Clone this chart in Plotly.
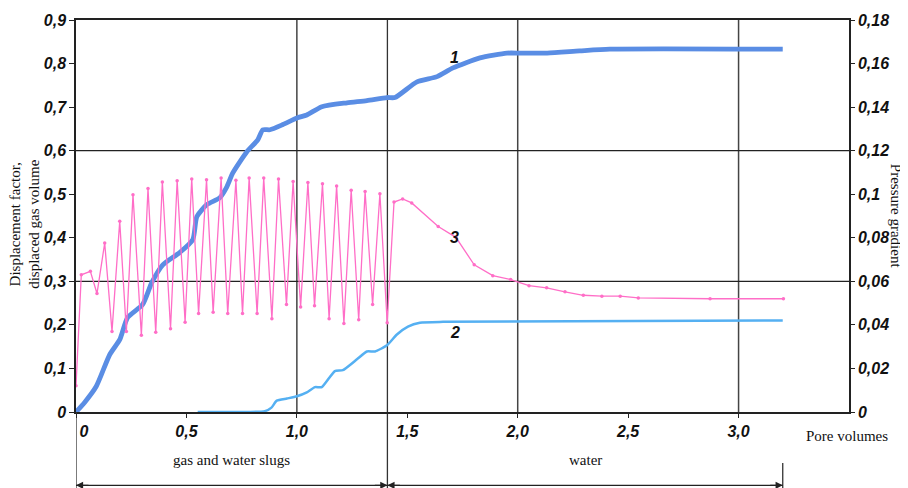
import plotly.graph_objects as go

# ---- data ----
# curve 1: displacement factor (left axis)
x1 = [0, 0.039, 0.092, 0.153, 0.198, 0.234, 0.302, 0.343, 0.393, 0.469, 0.529, 0.547, 0.592,
      0.651, 0.683, 0.710, 0.773, 0.823, 0.846, 0.878, 0.937, 1.0, 1.045, 1.113, 1.227, 1.317,
      1.408, 1.444, 1.544, 1.635, 1.707, 1.829, 1.951, 2.01, 2.133, 2.28, 2.417, 3.2]
y1 = [0, 0.022, 0.059, 0.132, 0.166, 0.217, 0.247, 0.297, 0.338, 0.366, 0.396, 0.448, 0.476,
      0.492, 0.517, 0.549, 0.597, 0.625, 0.648, 0.648, 0.660, 0.675, 0.682, 0.701, 0.710, 0.715,
      0.722, 0.722, 0.758, 0.770, 0.790, 0.813, 0.824, 0.824, 0.824, 0.829, 0.833, 0.833]

# curve 2: displaced gas volume (left axis)
x2 = [0.551, 0.855, 0.885, 0.909, 0.955, 1.0, 1.045, 1.082, 1.113, 1.172, 1.208, 1.272, 1.317,
      1.354, 1.408, 1.453, 1.503, 1.557, 1.662, 3.2]
y2 = [0, 0.002, 0.010, 0.026, 0.031, 0.036, 0.045, 0.057, 0.057, 0.094, 0.096, 0.121, 0.139,
      0.139, 0.153, 0.178, 0.196, 0.205, 0.207, 0.210]

# curve 3: pressure gradient (right axis)
x3 = [0, 0.024, 0.065, 0.095, 0.130, 0.163, 0.198, 0.228, 0.258, 0.296, 0.326, 0.361, 0.391,
      0.428, 0.458, 0.494, 0.524, 0.555, 0.591, 0.621, 0.657, 0.687, 0.724, 0.754, 0.784, 0.820,
      0.850, 0.887, 0.917, 0.953, 0.983, 1.017, 1.050, 1.080, 1.116, 1.146, 1.180, 1.213, 1.246,
      1.280, 1.309, 1.343, 1.376, 1.409, 1.440, 1.479, 1.520, 1.640, 1.720, 1.803, 1.887, 1.968,
      2.051, 2.131, 2.214, 2.297, 2.381, 2.464, 2.546, 2.871, 3.203]
y3 = [0.012, 0.063, 0.0646, 0.0544, 0.0776, 0.037, 0.0876, 0.037, 0.0998, 0.0352, 0.1026, 0.0366,
      0.1056, 0.0382, 0.1062, 0.0412, 0.107, 0.0452, 0.1066, 0.0458, 0.1074, 0.0452, 0.1064,
      0.0452, 0.1074, 0.0452, 0.1074, 0.0428, 0.107, 0.0494, 0.1058, 0.0482, 0.1054, 0.0488,
      0.1048, 0.0428, 0.1038, 0.0406, 0.1018, 0.0424, 0.1012, 0.0494, 0.1002, 0.041, 0.0964,
      0.0978, 0.096, 0.0852, 0.0802, 0.0676, 0.0626, 0.0608, 0.058, 0.057, 0.0552, 0.0536,
      0.0532, 0.0532, 0.0524, 0.052, 0.052]

x_tickvals = [0, 0.5, 1.0, 1.5, 2.0, 2.5, 3.0]
x_ticktext = ["\u2002\u20020", "0,5", "1,0", "1,5", "2,0", "2,5", "3,0"]
yl_tickvals = [0, 0.1, 0.2, 0.3, 0.4, 0.5, 0.6, 0.7, 0.8, 0.9]
yl_ticktext = ["0", "0,1", "0,2", "0,3", "0,4", "0,5", "0,6", "0,7", "0,8", "0,9"]
yr_tickvals = [0, 0.02, 0.04, 0.06, 0.08, 0.1, 0.12, 0.14, 0.16, 0.18]
yr_ticktext = ["0", "0,02", "0,04", "0,06", "0,08", "0,1", "0,12", "0,14", "0,16", "0,18"]

x_grid = [1.0, 2.0, 3.0]
y_grid = [0.3, 0.6]
slug_end = 1.41
water_end = 3.2
curve_labels = [("1", 1.716, 0.815), ("2", 1.716, 0.182), ("3", 1.716, 0.40)]

# ---- figure ----
tickfont = dict(family="Liberation Sans", size=16, color="#111", weight="bold", style="italic")
serif = dict(family="Liberation Serif", size=15, color="#111")

fig = go.Figure()
fig.add_trace(go.Scatter(x=x1, y=y1, mode="lines", line=dict(color="#5a8de4", width=4.8, shape="spline", smoothing=0.6),
                         showlegend=False, hoverinfo="skip"))
fig.add_trace(go.Scatter(x=x2, y=y2, mode="lines", line=dict(color="#55b0f2", width=2.5, shape="spline", smoothing=0.5),
                         showlegend=False, hoverinfo="skip"))
fig.add_trace(go.Scatter(x=x3, y=y3, mode="lines+markers", yaxis="y2",
                         line=dict(color="#ff6ec7", width=1.3), marker=dict(size=3.5, color="#ff6ec7"),
                         showlegend=False, hoverinfo="skip"))

arrow_y = -0.187
shapes = []
for gx in x_grid:
    shapes.append(dict(type="line", xref="x", yref="paper", x0=gx, x1=gx, y0=0, y1=1,
                       line=dict(color="#444", width=1.5), layer="below"))
shapes.append(dict(type="line", xref="x", yref="paper", x0=slug_end, x1=slug_end, y0=1, y1=-0.2,
                   line=dict(color="#333", width=1.3), layer="below"))
for gy in y_grid:
    shapes.append(dict(type="line", xref="paper", yref="y", x0=0, x1=1, y0=gy, y1=gy,
                       line=dict(color="#222", width=1.3), layer="below"))
shapes.append(dict(type="line", xref="x", yref="paper", x0=0, x1=0, y0=0, y1=-0.2,
                   line=dict(color="#333", width=1.3)))
shapes.append(dict(type="line", xref="x", yref="paper", x0=water_end, x1=water_end, y0=-0.13, y1=-0.2,
                   line=dict(color="#333", width=1.3)))
# bottom arrow lines
for (a, b) in [(0, slug_end), (slug_end, water_end)]:
    shapes.append(dict(type="line", xref="x", yref="paper", x0=a, x1=b, y0=arrow_y, y1=arrow_y,
                       line=dict(color="#222", width=1.3)))

annotations = []
for t, ax_, ay_ in curve_labels:
    annotations.append(dict(text=t, x=ax_, y=ay_, xref="x", yref="y", showarrow=False,
                            font=dict(family="Liberation Sans", size=16, color="#111", weight="bold", style="italic")))
# arrow heads and segment labels
for (a, b, label) in [(0, slug_end, "gas and water slugs"), (slug_end, water_end, "water")]:
    for (pos, off) in [(a, 14), (b, -14)]:
        annotations.append(dict(x=pos, y=arrow_y, xref="x", yref="paper", ax=off, ay=0,
                                axref="pixel", ayref="pixel", text="", showarrow=True, arrowhead=2,
                                arrowsize=1.1, arrowwidth=1.3, arrowcolor="#222", standoff=0))
    annotations.append(dict(x=(a + b) / 2, y=-0.148, xref="x", yref="paper", text=label, showarrow=False,
                            font=serif))
annotations.append(dict(text="Pore volumes", x=1.053, y=-0.062, xref="paper", yref="paper", xanchor="right",
                        yanchor="middle", showarrow=False, font=serif))
annotations.append(dict(text="Displacement factor,<br>displaced gas volume", x=-0.067, y=0.478, xref="paper",
                        yref="paper", xanchor="center", yanchor="middle", textangle=-90, showarrow=False,
                        font=serif))
annotations.append(dict(text="Pressure gradient", x=1.061, y=0.50, xref="paper", yref="paper",
                        xanchor="center", yanchor="middle", textangle=90, showarrow=False, font=serif))

# the page places the figure 8px in from the top-left corner, so the figure is 8px smaller
fig.update_layout(
    width=900, height=480,
    margin=dict(l=68, r=59, t=12, b=76, autoexpand=False),
    paper_bgcolor="white", plot_bgcolor="white",
    xaxis=dict(range=[0, 3.5], tickvals=x_tickvals, ticktext=x_ticktext, showgrid=False, zeroline=False,
               showline=True, linecolor="#222", linewidth=1.5, mirror=True, ticks="outside", ticklen=4,
               tickcolor="#222", tickfont=tickfont, automargin=False),
    yaxis=dict(range=[0, 0.9], tickvals=yl_tickvals, ticktext=yl_ticktext, showgrid=False, zeroline=False,
               showline=True, linecolor="#222", linewidth=1.5, mirror=True, ticks="outside", ticklen=5,
               tickcolor="#222", tickfont=tickfont, automargin=False),
    yaxis2=dict(range=[0, 0.18], tickvals=yr_tickvals, ticktext=yr_ticktext, overlaying="y", side="right",
                showgrid=False, zeroline=False, showline=True, linecolor="#222", linewidth=1.5,
                ticks="outside", ticklen=4, tickcolor="#222", tickfont=tickfont, automargin=False),
    shapes=shapes, annotations=annotations,
)

fig.write_html("out.html")
